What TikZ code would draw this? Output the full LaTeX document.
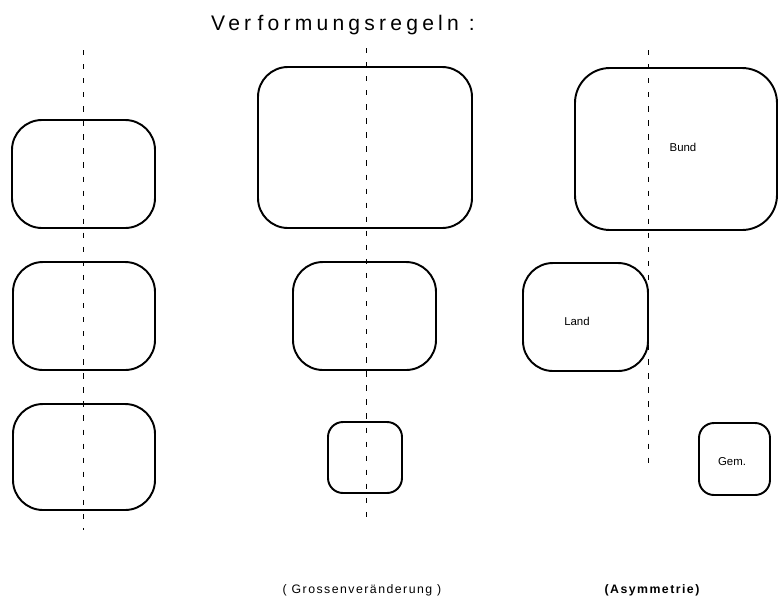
\documentclass[tikz,border=0pt]{standalone}
\usepackage{fontspec}
\setmainfont{Liberation Sans}
\newfontfamily\plotfont[LetterSpace=20]{Liberation Sans}
\newfontfamily\notefont[LetterSpace=12]{Liberation Sans}
\tikzset{
  blob/.style={line width=1.1pt, rounded corners=#1},
  axis/.style={line width=0.5pt, dash pattern=on 3pt off 5pt},
  tag/.style={font=\fontsize{6.5}{7}\selectfont, inner sep=0pt}
}
\begin{document}
\begin{tikzpicture}[x=0.02cm,y=-0.02cm]
\useasboundingbox (0,0) rectangle (779,603);
% Titel
\node[inner sep=0pt] (titel) at (343,25) {\plotfont\fontsize{12}{14}\selectfont Ver\hspace{0.3em}formungsregeln :};
% linke Spalte
\draw[axis] (83,50) -- (83,530);
\draw[blob=0.6cm] (12,120) rectangle (155,228);
\draw[blob=0.6cm] (13,262) rectangle (155,370);
\draw[blob=0.6cm] (13,404) rectangle (155,510);
% mittlere Spalte
\draw[axis] (366,48) -- (366,525);
\draw[blob=0.6cm] (258,67) rectangle (472,228);
\draw[blob=0.6cm] (293,262) rectangle (436,370);
\draw[blob=0.3cm] (328,422) rectangle (402,493);
% rechte Spalte
\draw[axis] (648,50) -- (648,470);
\draw[blob=0.7cm] (575,68) rectangle (777,230);
\draw[blob=0.6cm] (523,263) rectangle (648,371);
\draw[blob=0.3cm] (699,423) rectangle (770,495);
\node[tag] (bund) at (683,147) {Bund};
\node[tag] (land) at (577,321) {Land};
\node[tag] (gem) at (732,462) {Gem.};
% Unterschriften
\node[inner sep=0pt] (gross) at (362,590) {\notefont\fontsize{7}{8}\selectfont ( Grossenveränderung )};
\node[inner sep=0pt] (asym) at (652,590) {\notefont\fontsize{7}{8}\selectfont\bfseries (Asymmetrie)};
\end{tikzpicture}
\end{document}
